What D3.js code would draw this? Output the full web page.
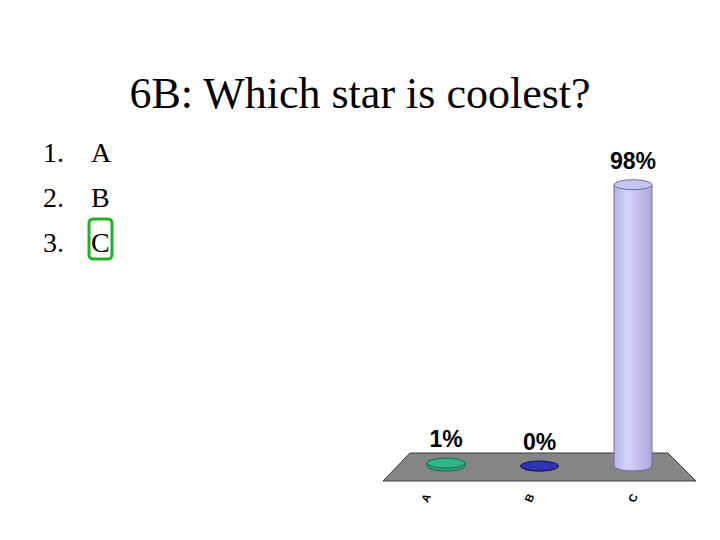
<!DOCTYPE html>
<html>
<head>
<meta charset="utf-8">
<script src="https://cdn.jsdelivr.net/npm/d3@7/dist/d3.min.js"></script>
<style>
  body { margin: 0; background: #fff; }
  svg { display: block; }
</style>
</head>
<body>
<svg id="chart" width="720" height="540"></svg>
<script>
var title = "6B: Which star is coolest?";
var answers = ["A", "B", "C"];
var percents = [1, 0, 98];
var colors = ["#2ba37c", "#2b2f9e", "#c8c8f4"];
var strokes = ["#15684c", "#15175c", "#6e6e9c"];
var correct = 2;

var svg = d3.select("#chart");

// title
svg.append("text")
    .attr("x", 360).attr("y", 108)
    .attr("text-anchor", "middle")
    .style("font-family", "'Liberation Serif', 'Times New Roman', serif")
    .style("font-size", "44px")
    .text(title);

// answer list
var list = svg.append("g");
answers.forEach(function(a, i) {
  var yy = 162 + i * 45;
  list.append("text").attr("x", 43).attr("y", yy)
      .style("font-family", "'Liberation Serif', serif").style("font-size", "28px")
      .text((i + 1) + ".");
  list.append("text").attr("x", 91).attr("y", yy)
      .style("font-family", "'Liberation Serif', serif").style("font-size", "28px")
      .text(a);
});
// green box around correct answer
list.append("rect")
    .attr("x", 89).attr("y", 162 + correct * 45 - 33)
    .attr("width", 23).attr("height", 40)
    .attr("rx", 4)
    .attr("fill", "none").attr("stroke", "#22b022").attr("stroke-width", 3);

///////////////////////
// Scales
var x = d3.scalePoint().domain(answers).range([446, 633]);
var base = 466;
var y = d3.scaleLinear().domain([0, 100]).range([0, 287]);
var rx = 19, ry = 5;

// floor
var floorTop = 453, floorBottom = 481;
svg.append("polygon")
    .attr("points", [
      [x("A") - 36, floorTop], [x("C") + 35, floorTop],
      [x("C") + 63, floorBottom], [x("A") - 63, floorBottom]
    ].map(function(p) { return p.join(","); }).join(" "))
    .attr("fill", "#858585").attr("stroke", "#3a3a3a").attr("stroke-width", 1);

// gradient for the tall cylinder
var defs = svg.append("defs");
var grad = defs.append("linearGradient").attr("id", "cyl").attr("x1", 0).attr("x2", 1);
grad.append("stop").attr("offset", "0%").attr("stop-color", "#b4b4e6");
grad.append("stop").attr("offset", "35%").attr("stop-color", "#d4d4fa");
grad.append("stop").attr("offset", "60%").attr("stop-color", "#c4c4f2");
grad.append("stop").attr("offset", "100%").attr("stop-color", "#a8a8dc");

var bars = svg.append("g");
answers.forEach(function(a, i) {
  var cx = x(a), h = Math.max(y(percents[i]), 0);
  var top = base - h;
  var fill = i === 2 ? "url(#cyl)" : colors[i];
  // body
  bars.append("path")
      .attr("d", "M" + (cx - rx) + "," + top +
                 " L" + (cx - rx) + "," + base +
                 " A" + rx + "," + ry + " 0 0 0 " + (cx + rx) + "," + base +
                 " L" + (cx + rx) + "," + top + " Z")
      .attr("fill", fill).attr("stroke", strokes[i]).attr("stroke-width", 1);
  // top cap
  bars.append("ellipse")
      .attr("cx", cx).attr("cy", top)
      .attr("rx", rx).attr("ry", ry)
      .attr("fill", i === 2 ? "#c6c6f2" : d3.color(colors[i]).brighter(0.3))
      .attr("stroke", strokes[i]).attr("stroke-width", 1);
  // value label
  bars.append("text")
      .attr("x", cx).attr("y", top - 16)
      .attr("text-anchor", "middle")
      .style("font-family", "'Liberation Sans', Arial, sans-serif")
      .style("font-weight", "bold").style("font-size", "23px")
      .text(percents[i] + "%");
});

// category labels, rotated
var offs = [-20, -10, 0];
answers.forEach(function(a, i) {
  var lx = x(a) + offs[i], ly = 498;
  svg.append("text")
      .attr("transform", "translate(" + lx + "," + ly + ") rotate(-65)")
      .attr("text-anchor", "middle")
      .attr("dy", "0.35em")
      .style("font-family", "'Liberation Sans', Arial, sans-serif")
      .style("font-weight", "bold").style("font-size", "11px")
      .text(a);
});
</script>
</body>
</html>
